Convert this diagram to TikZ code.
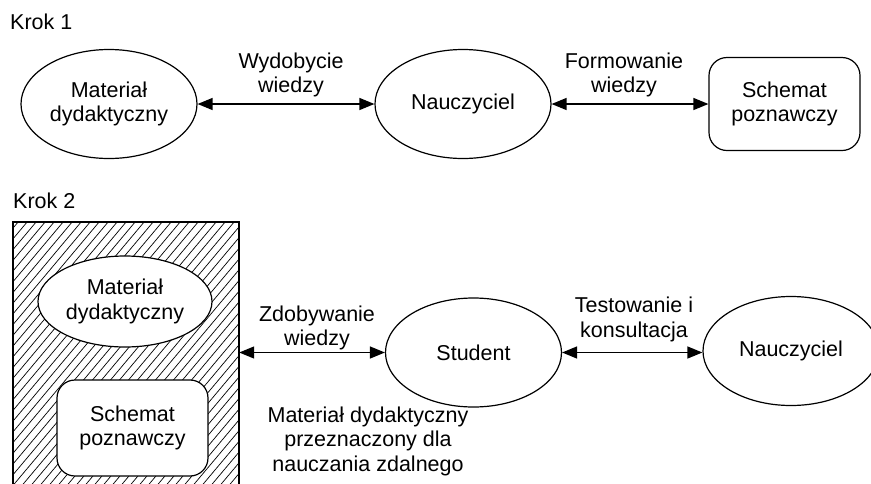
\documentclass[tikz,border=0pt]{standalone}
\usepackage{fontspec}
\setmainfont{Liberation Sans}
\usetikzlibrary{shapes.geometric,arrows.meta}
\begin{document}
\begin{tikzpicture}[x=1pt,y=-1pt,
  every node/.style={font=\fontsize{21.5}{24.5}\selectfont, align=center, inner sep=0pt},
  oval/.style={ellipse, draw, line width=1.2pt, minimum width=176pt, minimum height=109pt, fill=white},
  rbox/.style={draw, rounded corners=18pt, line width=1.2pt, minimum width=151pt, minimum height=93pt, fill=white},
  link/.style={{Triangle[length=15pt,width=12pt]}-{Triangle[length=15pt,width=12pt]}, line width=1.3pt},
  hatchline/.style={line width=0.7pt},
  title/.style={anchor=base west}
]
\useasboundingbox (0,0) rectangle (871,483);

% Step 1
\node[title] (k1) at (10,29) {Krok 1};
\node[oval] (mat1) at (109,104) {Materiał\\dydaktyczny};
\node[oval] (nau1) at (463,104) {Nauczyciel};
\node[rbox] (sch1) at (784.5,104) {Schemat\\poznawczy};
\draw[link] (mat1.east) -- (nau1.west);
\draw[link] (nau1.east) -- (sch1.west);
\node (l1) at (291,75) {Wydobycie\\wiedzy};
\node (l2) at (624,75) {Formowanie\\wiedzy};

% Step 2
\node[title] (k2) at (13,208) {Krok 2};
\node[draw, line width=1.2pt, minimum width=225pt, minimum height=268pt, anchor=north west] (panel) at (13,222) {};
\begin{scope}
  \clip (panel.south west) rectangle (panel.north east);
  \foreach \i in {-220,-211,...,245} \draw[hatchline] (\i,495) -- ++(235,-280);
\end{scope}
\draw[line width=1.2pt] (panel.south west) rectangle (panel.north east);
\node[oval, minimum width=174pt, minimum height=91pt] (mat2) at (125,301.5) {Materiał\\dydaktyczny};
\node[rbox, minimum height=96pt] (sch2) at (132.5,428) {Schemat\\poznawczy};
\node[oval] (stu) at (473.5,352.5) {Student};
\node[oval] (nau2) at (791,351) {Nauczyciel};
\draw[link] (stu.west -| panel.east) -- (stu.west);
\draw[link] (stu.east) -- (stu.east -| nau2.west);
\node (l3) at (317,328) {Zdobywanie\\wiedzy};
\node (l4) at (634,319.5) {Testowanie i\\konsultacja};
\node (l5) at (368,441) {Materiał dydaktyczny\\przeznaczony dla\\nauczania zdalnego};
\end{tikzpicture}
\end{document}
